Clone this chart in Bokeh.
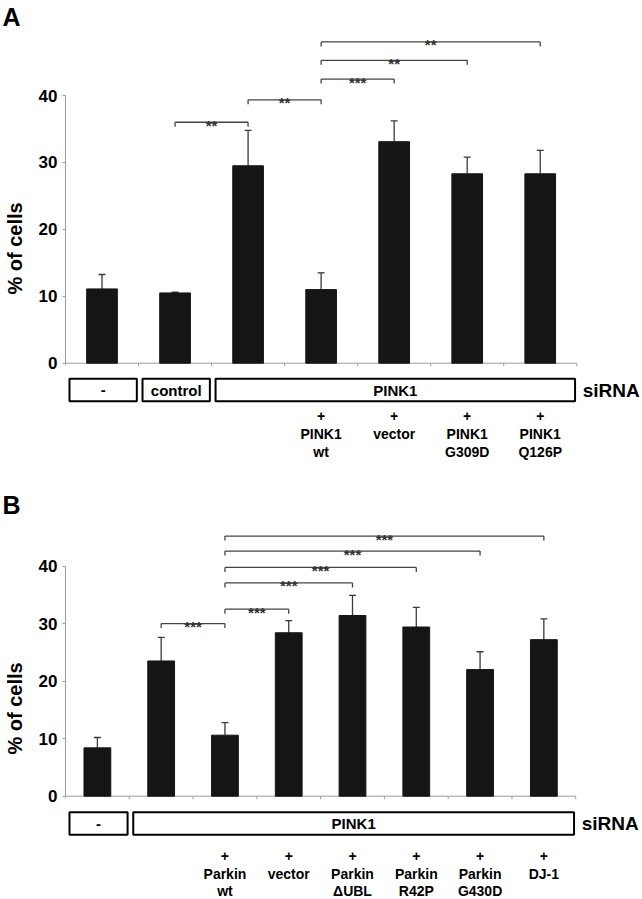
from bokeh.plotting import figure
from bokeh.models import Range1d, FixedTicker, Whisker, TeeHead, ColumnDataSource
from bokeh.layouts import column
from bokeh.embed import file_html
from bokeh.resources import INLINE
from bokeh.core.properties import value

# ---------------- Panel A data ----------------
a_means = [11.1, 10.5, 29.5, 11.0, 33.1, 28.3, 28.3]
a_sd = [2.15, 0.1, 5.3, 2.5, 3.1, 2.5, 3.5]
a_sirna_names = ["-", "control", "PINK1"]
a_sirna_first = [0, 1, 2]
a_sirna_last = [0, 1, 6]
a_line1 = ["", "", "", "PINK1", "vector", "PINK1", "PINK1"]
a_line2 = ["", "", "", "wt", "", "G309D", "Q126P"]
a_cmp_from = [1, 2, 3, 3, 3]
a_cmp_to = [2, 3, 4, 5, 6]
a_cmp_level = [36.0, 39.35, 42.45, 45.25, 48.0]
a_cmp_stars = ["**", "**", "***", "**", "**"]

# ---------------- Panel B data ----------------
b_means = [8.4, 23.5, 10.6, 28.4, 31.4, 29.4, 22.0, 27.2]
b_sd = [1.8, 4.1, 2.2, 2.1, 3.5, 3.4, 3.1, 3.6]
b_sirna_names = ["-", "PINK1"]
b_sirna_first = [0, 1]
b_sirna_last = [0, 7]
b_line1 = ["", "", "Parkin", "vector", "Parkin", "Parkin", "Parkin", "DJ-1"]
b_line2 = ["", "", "wt", "", "\u0394UBL", "R42P", "G430D", ""]
b_cmp_from = [1, 2, 2, 2, 2, 2]
b_cmp_to = [2, 3, 4, 5, 6, 7]
b_cmp_level = [30.0, 32.5, 37.06, 39.76, 42.6, 45.2]
b_cmp_stars = ["***", "***", "***", "***", "***", "***"]

y_ticks = [0, 10, 20, 30, 40]

FONT = "Liberation Sans"
W = 642
LEFT = 63


def panel(letter, means, sd, s_names, s_first, s_last, l1, l2,
          c_from, c_to, c_level, c_stars,
          height, top_border, cat_px, unit_px, zero_px, rows):
    n = len(means)
    d = lambda px: px / unit_px          # pixel distance -> data units (y)
    dx = lambda px: px / cat_px          # pixel distance -> data units (x)
    y_top = d(zero_px - top_border)
    y_bot = -d(height - zero_px)
    p = figure(width=W, height=height,
               x_range=Range1d(0, (W - LEFT) / cat_px),
               y_range=Range1d(y_bot, y_top),
               output_backend="svg", toolbar_location=None,
               x_axis_location=None, title=letter,
               min_border_left=LEFT, min_border_right=0,
               min_border_top=top_border, min_border_bottom=0)
    p.outline_line_color = None
    p.xgrid.visible = False
    p.ygrid.visible = False
    p.background_fill_color = "white"
    p.border_fill_color = "white"

    t = p.title
    t.text_font = FONT
    t.text_font_style = "bold"
    t.text_font_size = "25px"
    t.text_color = "black"
    t.align = "left"
    t.offset = -LEFT
    t.standoff = 0
    t.vertical_align = "bottom"

    ax = p.yaxis[0]
    ax.ticker = FixedTicker(ticks=y_ticks)
    ax.bounds = (min(y_ticks), max(y_ticks))
    ax.axis_line_color = "#9c9c9c"
    ax.axis_line_width = 1
    ax.major_tick_line_color = "#9c9c9c"
    ax.major_tick_out = 3
    ax.major_tick_in = 0
    ax.minor_tick_line_color = None
    ax.major_label_standoff = 5
    ax.major_label_text_font = FONT
    ax.major_label_text_font_style = "bold"
    ax.major_label_text_font_size = "17px"
    ax.major_label_text_color = "black"
    ax.axis_label = "% of cells"
    ax.axis_label_text_font = FONT
    ax.axis_label_text_font_style = "bold"
    ax.axis_label_text_font_size = "20px"
    ax.axis_label_text_color = "black"
    ax.axis_label_standoff = 10

    centers = [i + 0.5 for i in range(n)]

    # baseline and category ticks
    p.segment(x0=[0], y0=[0], x1=[n], y1=[0], line_color="#9c9c9c", line_width=1)
    p.segment(x0=list(range(n + 1)), y0=[0] * (n + 1),
              x1=list(range(n + 1)), y1=[-d(3)] * (n + 1),
              line_color="#9c9c9c", line_width=1)

    # bars
    p.vbar(x=centers, top=means, bottom=0, width=0.42,
           fill_color="#151515", line_color="#151515")

    # error bars
    src = ColumnDataSource(dict(x=centers, lower=means,
                                upper=[m + s for m, s in zip(means, sd)]))
    p.add_layout(Whisker(base="x", lower="lower", upper="upper", source=src,
                         lower_head=None,
                         upper_head=TeeHead(size=7, line_color="#3a3a3a", line_width=1.3),
                         line_color="#3a3a3a", line_width=1.3))

    # significance brackets
    x0s, y0s, x1s, y1s = [], [], [], []
    tick = d(4.5)
    for a, b, h in zip(c_from, c_to, c_level):
        xa, xb = a + 0.5, b + 0.5
        x0s += [xa, xa, xb]
        y0s += [h, h, h]
        x1s += [xb, xa, xb]
        y1s += [h, h - tick, h - tick]
    p.segment(x0=x0s, y0=y0s, x1=x1s, y1=y1s, line_color="#444444", line_width=1.3)
    p.text(x=[(a + b + 1) / 2 for a, b in zip(c_from, c_to)], y=c_level, text=c_stars,
           text_align="center", text_baseline="alphabetic", y_offset=3,
           text_font=value(FONT), text_font_style="bold", text_font_size="15px",
           text_color="#333333")

    # siRNA boxes
    box_top, box_bot = -d(rows[0]), -d(rows[1])
    lefts = [f + dx(4) for f in s_first]
    rights = [l + 1 - dx(1.7) for l in s_last]
    p.quad(left=lefts, right=rights, top=[box_top] * len(lefts), bottom=[box_bot] * len(lefts),
           fill_color="white", line_color="black", line_width=2)
    p.text(x=[(l + r) / 2 for l, r in zip(lefts, rights)], y=[(box_top + box_bot) / 2] * len(lefts),
           text=s_names, text_align="center", text_baseline="middle",
           text_font=value(FONT), text_font_style="bold", text_font_size="15px",
           text_color="black")
    p.text(x=[n + dx(6)], y=[(box_top + box_bot) / 2], text=["siRNA"],
           text_align="left", text_baseline="middle",
           text_font=value(FONT), text_font_style="bold", text_font_size="19px",
           text_color="black")

    # treatment labels
    idx = [i for i in range(n) if l1[i]]
    for row_px, texts in ((rows[2], ["+"] * len(idx)),
                          (rows[3], [l1[i] for i in idx]),
                          (rows[4], [l2[i] for i in idx])):
        p.text(x=[centers[i] for i in idx], y=[-d(row_px)] * len(idx), text=texts,
               text_align="center", text_baseline="middle",
               text_font=value(FONT), text_font_style="bold", text_font_size="14px",
               text_color="black")
    return p


pA = panel("A", a_means, a_sd, a_sirna_names, a_sirna_first, a_sirna_last, a_line1, a_line2,
           a_cmp_from, a_cmp_to, a_cmp_level, a_cmp_stars,
           height=466, top_border=30, cat_px=73.29, unit_px=6.6925, zero_px=362.7,
           rows=(15.6, 38.0, 52.3, 70.6, 89.0))
pB = panel("B", b_means, b_sd, b_sirna_names, b_sirna_first, b_sirna_last, b_line1, b_line2,
           b_cmp_from, b_cmp_to, b_cmp_level, b_cmp_stars,
           height=432, top_border=52, cat_px=64.0, unit_px=5.755, zero_px=329.7,
           rows=(16.0, 38.6, 59.3, 77.6, 95.0))

layout = column(pA, pB, spacing=0)
open("out.html", "w").write(file_html(layout, INLINE))
